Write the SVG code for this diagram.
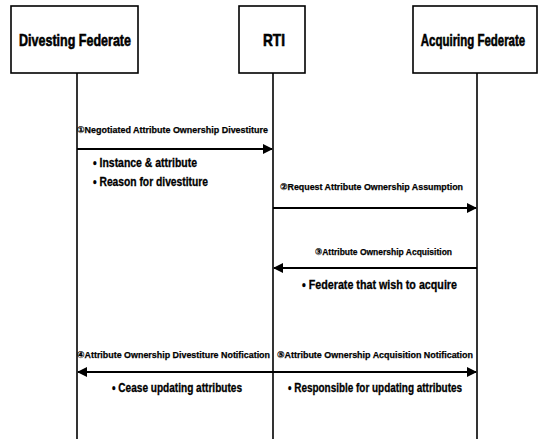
<svg xmlns="http://www.w3.org/2000/svg" width="538" height="439" viewBox="0 0 538 439">
  <style>
    .box { fill: #ffffff; stroke: #000000; stroke-width: 1.6; }
    .life { stroke: #000000; stroke-width: 1.6; fill: none; }
    .msg { stroke: #000000; stroke-width: 2; fill: none; }
    .title { font-family: "Liberation Sans", Arial, sans-serif; font-weight: bold; font-size: 17px; fill: #000; stroke: #000; stroke-width: 0.6; text-anchor: middle; }
    .lbl { font-family: "Liberation Sans", "DejaVu Sans", sans-serif; font-weight: bold; font-size: 9.5px; fill: #000; stroke: #000; stroke-width: 0.25; }
    .bul { font-family: "Liberation Sans", "DejaVu Sans", sans-serif; font-weight: bold; font-size: 12px; fill: #000; stroke: #000; stroke-width: 0.3; }
  </style>
  <defs>
    <marker id="arrow" viewBox="0 0 10 10" refX="9" refY="5" markerWidth="5" markerHeight="5" orient="auto-start-reverse" markerUnits="strokeWidth">
      <path d="M0,0 L10,5 L0,10 z" fill="#000"/>
    </marker>
  </defs>

  <!-- participants -->
  <g id="divesting-federate">
    <rect class="box" x="11" y="6" width="127" height="67"/>
    <text class="title" x="75" y="46" textLength="112" lengthAdjust="spacingAndGlyphs">Divesting Federate</text>
    <line class="life" x1="77" y1="73" x2="77" y2="439"/>
  </g>
  <g id="rti">
    <rect class="box" x="239" y="6" width="66" height="67"/>
    <text class="title" x="274" y="46" textLength="22" lengthAdjust="spacingAndGlyphs">RTI</text>
    <line class="life" x1="273" y1="73" x2="273" y2="439"/>
  </g>
  <g id="acquiring-federate">
    <rect class="box" x="413" y="6" width="124" height="67"/>
    <!-- condensed horizontally so the title fits inside the box -->
    <text class="title" transform="translate(473,46) scale(0.7,1)" x="0" y="0" textLength="149" lengthAdjust="spacingAndGlyphs">Acquiring Federate</text>
    <line class="life" x1="477" y1="73" x2="477" y2="439"/>
  </g>

  <!-- messages -->
  <g id="connectors">
    <line class="msg" x1="77" y1="149" x2="272" y2="149" marker-end="url(#arrow)"/>
    <line class="msg" x1="273" y1="208" x2="476" y2="208" marker-end="url(#arrow)"/>
    <line class="msg" x1="477" y1="268" x2="274" y2="268" marker-end="url(#arrow)"/>
    <line class="msg" x1="273" y1="372" x2="78" y2="372" marker-end="url(#arrow)"/>
    <line class="msg" x1="273" y1="372" x2="476" y2="372" marker-end="url(#arrow)"/>
  </g>

  <!-- message labels -->
  <g id="labels">
    <text class="lbl" x="77" y="133" textLength="191" lengthAdjust="spacingAndGlyphs">①Negotiated Attribute Ownership Divestiture</text>
    <text class="bul" x="93" y="167" textLength="104" lengthAdjust="spacingAndGlyphs">• Instance &amp; attribute</text>
    <text class="bul" x="93" y="186" textLength="115" lengthAdjust="spacingAndGlyphs">• Reason for divestiture</text>

    <text class="lbl" x="280" y="190" textLength="183" lengthAdjust="spacingAndGlyphs">②Request Attribute Ownership Assumption</text>

    <text class="lbl" x="315" y="255" textLength="137" lengthAdjust="spacingAndGlyphs">③Attribute Ownership Acquisition</text>
    <text class="bul" x="302" y="289" textLength="155" lengthAdjust="spacingAndGlyphs">• Federate that wish to acquire</text>

    <text class="lbl" x="77" y="358" textLength="193" lengthAdjust="spacingAndGlyphs">④Attribute Ownership Divestiture Notification</text>
    <text class="bul" x="112" y="392" textLength="130" lengthAdjust="spacingAndGlyphs">• Cease updating attributes</text>

    <text class="lbl" x="277" y="358" textLength="196" lengthAdjust="spacingAndGlyphs">⑤Attribute Ownership Acquisition Notification</text>
    <text class="bul" x="288" y="392" textLength="174" lengthAdjust="spacingAndGlyphs">• Responsible for updating attributes</text>
  </g>
</svg>
